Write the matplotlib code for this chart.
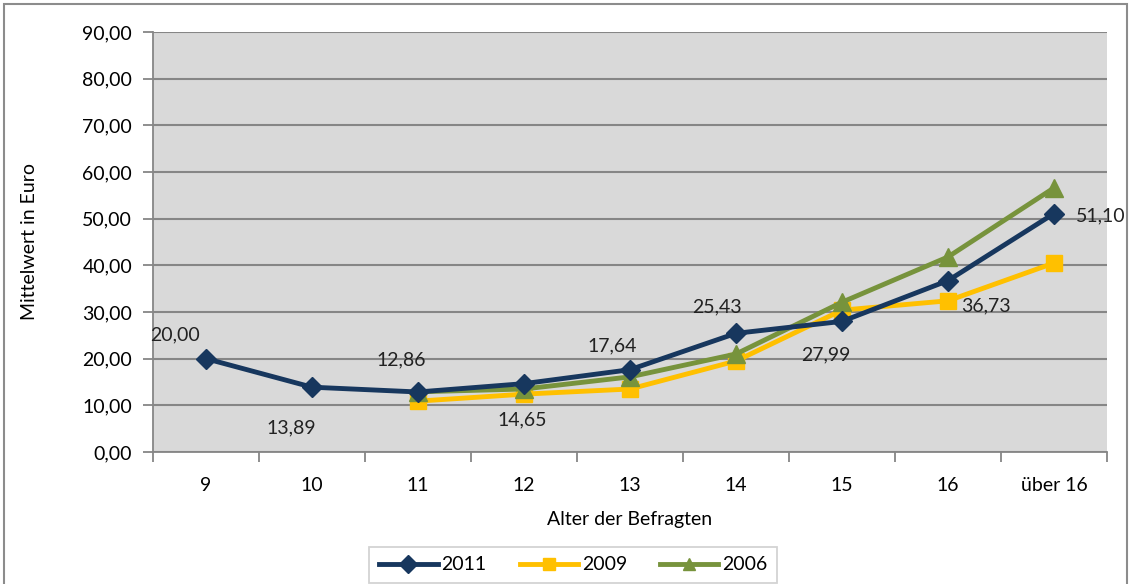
import matplotlib.pyplot as plt
from matplotlib.patches import Rectangle
import numpy as np

plt.rcParams['font.family'] = ['Lato', 'DejaVu Sans']

# Daten
kategorien = ['9', '10', '11', '12', '13', '14', '15', '16', 'über 16']
werte_2011 = [20.00, 13.89, 12.86, 14.65, 17.64, 25.43, 27.99, 36.73, 51.10]
werte_2009 = [None, None, 10.9, 12.4, 13.5, 19.5, 30.4, 32.4, 40.5]
werte_2006 = [None, None, 12.9, 13.5, 16.1, 21.0, 32.1, 41.8, 56.6]
y_ticks = [0, 10, 20, 30, 40, 50, 60, 70, 80, 90]

# Versatz der Beschriftungen (Punkte)
label_offsets = [(-22, 17), (-15, -29), (-12, 23), (-1, -26), (-13, 17),
                 (-14, 19), (-12, -24), (27, -18), (34, -2)]

def to_arr(v):
    return np.array([np.nan if x is None else x for x in v], dtype=float)

fig = plt.figure(figsize=(11.31, 5.84), dpi=100)
ax = fig.add_axes([153 / 1131, 132 / 584, 954 / 1131, 420 / 584])
ax.set_facecolor('#d9d9d9')

x = np.arange(len(kategorien))
ax.plot(x, to_arr(werte_2009), color='#ffc000', lw=3.5, marker='s', ms=12,
        label='2009', zorder=3)
ax.plot(x, to_arr(werte_2006), color='#77933c', lw=3.5, marker='^', ms=13,
        label='2006', zorder=4)
ax.plot(x, to_arr(werte_2011), color='#17375e', lw=3.5, marker='D', ms=10,
        label='2011', zorder=5)

for xi, v, off in zip(x, werte_2011, label_offsets):
    ax.annotate(f'{v:.2f}'.replace('.', ','), (xi, v), xytext=off,
                textcoords='offset points', ha='center', va='center',
                fontsize=14, color='#222222', zorder=6)

ax.set_xlim(-0.5, len(kategorien) - 0.5)
ax.set_ylim(0, 90)
ax.set_yticks(y_ticks)
ax.set_yticklabels([f'{t:.2f}'.replace('.', ',') for t in y_ticks], fontsize=14)
ax.set_xticks(x)
ax.set_xticklabels(kategorien, fontsize=14)
ax.set_xticks(np.arange(-0.5, len(kategorien)), minor=True)
ax.tick_params(axis='x', which='major', length=0, pad=18)
ax.tick_params(axis='x', which='minor', length=7, color='#868686', width=1.3)
ax.tick_params(axis='y', length=7, color='#868686', width=1.3, pad=8)
ax.grid(axis='y', color='#868686', lw=1.5)
ax.set_axisbelow(True)
for s in ['top', 'right']:
    ax.spines[s].set_visible(False)
for s in ['left', 'bottom']:
    ax.spines[s].set_color('#868686')
    ax.spines[s].set_linewidth(1.3)

ax.set_xlabel('Alter der Befragten', fontsize=14, labelpad=12)
ax.set_ylabel('Mittelwert in Euro', fontsize=14, labelpad=32)

handles, labels = ax.get_legend_handles_labels()
order = [2, 0, 1]
leg = fig.legend([handles[i] for i in order], [labels[i] for i in order],
                 loc='upper center', bbox_to_anchor=(0.507, 1 - 537 / 584),
                 ncol=3, fontsize=14, frameon=True, fancybox=False,
                 edgecolor='#c8c8c8', handlelength=3.0, handletextpad=0.2,
                 columnspacing=1.7, borderpad=0.5)
leg.get_frame().set_linewidth(1.3)
for h in leg.legend_handles:
    h.set_markersize(9)

# Rahmen um das Diagramm
fig.patches.append(Rectangle((4 / 1131, -0.05), 1123 / 1131, 1.05 - 4 / 584,
                             transform=fig.transFigure, fill=False,
                             edgecolor='#8c8c8c', lw=1.5))

fig.savefig('out.png', dpi=100)
